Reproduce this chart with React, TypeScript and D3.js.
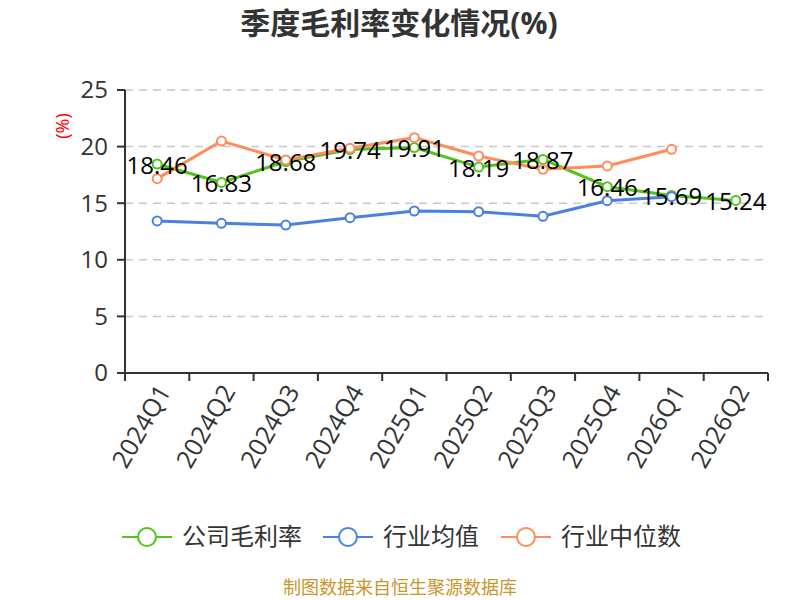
import * as d3 from "d3";

const quarters = ["2024Q1", "2024Q2", "2024Q3", "2024Q4", "2025Q1", "2025Q2", "2025Q3", "2025Q4", "2026Q1", "2026Q2"];
const companyMargin = [18.46, 16.83, 18.68, 19.74, 19.91, 18.19, 18.87, 16.46, 15.69, 15.24];
const industryMean = [13.43, 13.22, 13.07, 13.72, 14.31, 14.25, 13.84, 15.22, 15.58, null];
const industryMedian = [17.17, 20.49, 18.82, 19.85, 20.79, 19.17, 17.99, 18.29, 19.76, null];
const yTicks = [0, 5, 10, 15, 20, 25];

const FONT = "'Open Sans', 'Noto Sans CJK SC', sans-serif";
const GREEN = "#52c41a";
const BLUE = "#4a80e3";
const ORANGE = "#ff8c5a";

const series = [
  { name: "公司毛利率", color: GREEN, values: companyMargin, labels: true },
  { name: "行业均值", color: BLUE, values: industryMean, labels: false },
  { name: "行业中位数", color: ORANGE, values: industryMedian, labels: false },
];

export default function App() {
  const W = 800;
  const H = 600;
  const left = 125;
  const right = 768;
  const top = 90;
  const bottom = 373;

  const x = d3.scaleBand<string>().domain(quarters).range([left, right]);
  const y = d3.scaleLinear().domain([0, 25]).range([bottom, top]);
  const cx = (q: string) => (x(q) ?? 0) + x.bandwidth() / 2;

  const line = d3
    .line<number | null>()
    .defined((d) => d !== null)
    .x((_, i) => cx(quarters[i]))
    .y((d) => y(d as number));

  const boundaries = [...quarters.map((q) => x(q) ?? 0), right];

  return (
    <svg width={W} height={H} style={{ position: "absolute", left: 0, top: 0 }} fontFamily={FONT}>
      <rect width={W} height={H} fill="#fff" />
      <text x={399} y={34} textAnchor="middle" fontSize={30} fontWeight="bold" fill="#333">
        季度毛利率变化情况(%)
      </text>

      {/* grid */}
      {yTicks.filter((t) => t > 0).map((t) => (
        <line key={t} x1={left} x2={right} y1={y(t)} y2={y(t)} stroke="#c8c8c8" strokeWidth={1.5} strokeDasharray="8,6" />
      ))}

      {/* y axis */}
      <line x1={left} x2={left} y1={top} y2={bottom} stroke="#333" strokeWidth={2} />
      {yTicks.map((t) => (
        <g key={t}>
          <line x1={left - 8} x2={left} y1={y(t)} y2={y(t)} stroke="#333" strokeWidth={2} />
          <text x={108} y={y(t)} dy="0.35em" textAnchor="end" fontSize={24} fill="#333">
            {t}
          </text>
        </g>
      ))}
      <text transform="translate(63,126) rotate(-90)" textAnchor="middle" dy="0.35em" fontSize={18} fill="red">
        (%)
      </text>

      {/* x axis */}
      <line x1={left} x2={right} y1={bottom} y2={bottom} stroke="#333" strokeWidth={2} />
      {boundaries.map((b, i) => (
        <line key={i} x1={b} x2={b} y1={bottom} y2={bottom + 8} stroke="#333" strokeWidth={2} />
      ))}
      {quarters.map((q) => (
        <text key={q} transform={`translate(${cx(q) + 7},${bottom + 14}) rotate(-60)`} textAnchor="end" dy="0.35em" fontSize={25} fill="#333">
          {q}
        </text>
      ))}

      {/* lines */}
      {series.map((s) => (
        <g key={s.name}>
          <path d={line(s.values) ?? ""} fill="none" stroke={s.color} strokeWidth={3} />
          {s.values.map((v, i) =>
            v === null ? null : (
              <circle key={i} cx={cx(quarters[i])} cy={y(v)} r={4.5} fill="#fff" stroke={s.color} strokeWidth={2} />
            )
          )}
        </g>
      ))}
      {series.filter((s) => s.labels).map((s) =>
        s.values.map((v, i) =>
          v === null ? null : (
            <text key={i} x={cx(quarters[i])} y={y(v)} dy="0.4em" textAnchor="middle" fontSize={24} fill="#000">
              {v.toFixed(2)}
            </text>
          )
        )
      )}

      {/* legend */}
      {series.map((s, i) => {
        const lx = [122, 323, 501][i];
        const ly = 537;
        return (
          <g key={s.name}>
            <line x1={lx} x2={lx + 50} y1={ly} y2={ly} stroke={s.color} strokeWidth={2} />
            <circle cx={lx + 25} cy={ly} r={9} fill="#fff" stroke={s.color} strokeWidth={2} />
            <text x={lx + 60} y={ly} dy="0.35em" fontSize={24} fill="#333">
              {s.name}
            </text>
          </g>
        );
      })}

      <text x={400} y={594} textAnchor="middle" fontSize={18} fill="#c8962a">
        制图数据来自恒生聚源数据库
      </text>
    </svg>
  );
}
